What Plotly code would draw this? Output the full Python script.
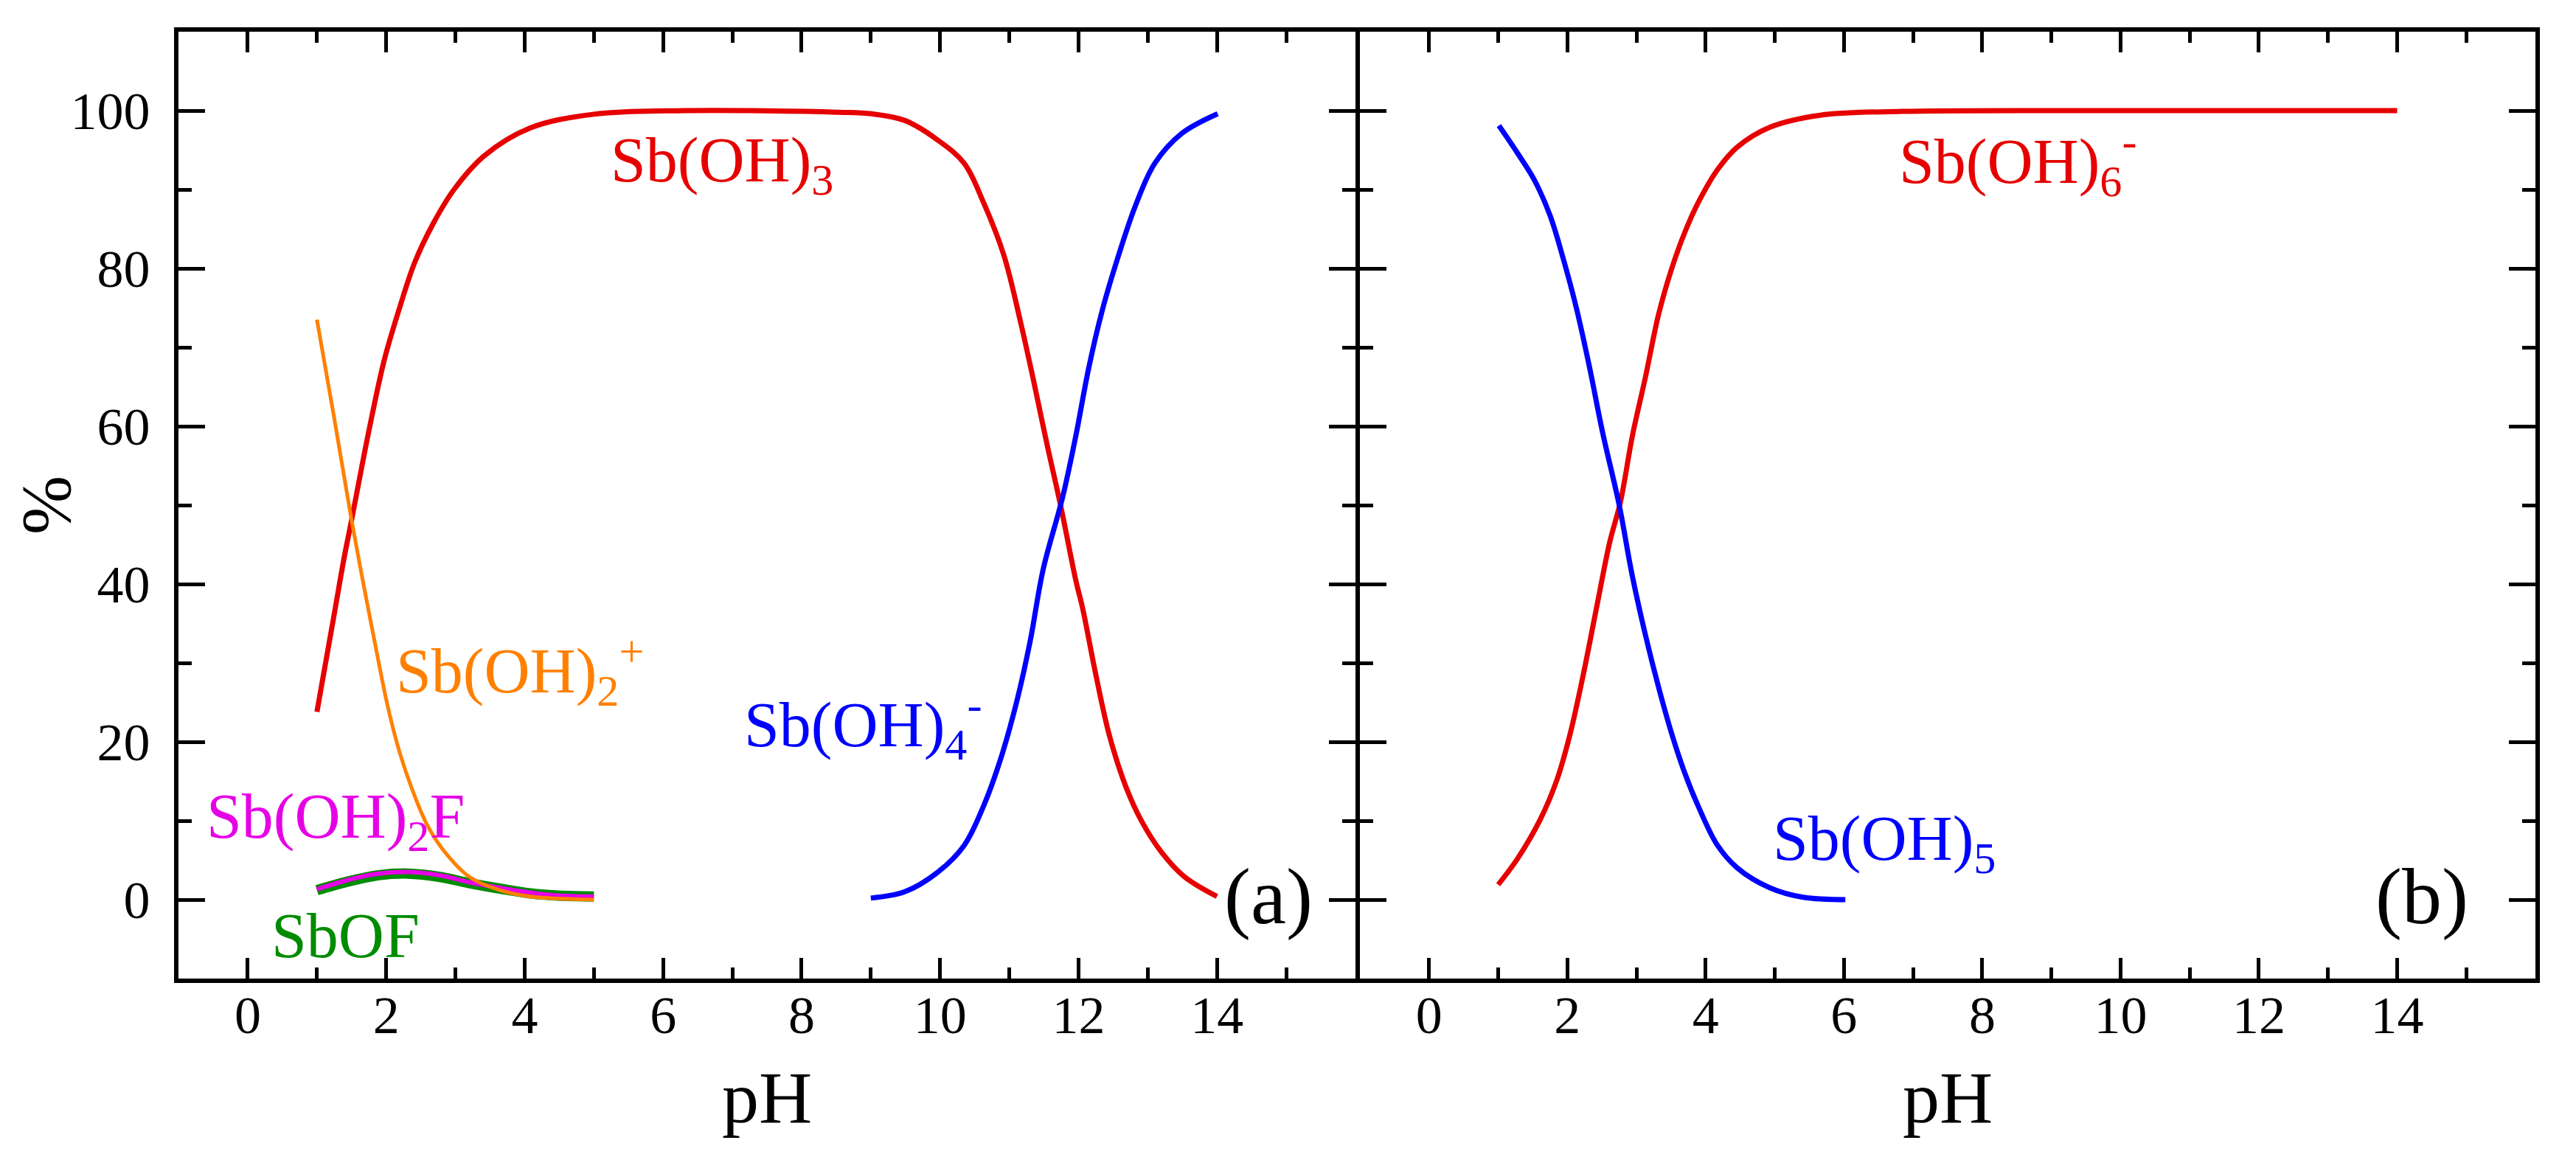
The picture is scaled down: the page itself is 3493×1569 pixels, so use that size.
import plotly.graph_objects as go
from plotly.subplots import make_subplots

# ---- panel (a): Sb(III) species ----
PH_SBOH3 = [1.0, 1.25, 1.39, 1.5, 1.75, 1.97, 2.19, 2.41, 2.68, 2.98, 3.42, 4.08, 4.96, 6.3,
            8.54, 9.01, 9.49, 9.97, 10.35, 10.63, 10.92, 11.16, 11.35, 11.54, 11.74, 11.96,
            12.06, 12.25, 12.44, 12.68, 12.92, 13.2, 13.53, 14.0]
SBOH3 = [23.8, 36.2, 43.2, 48.1, 59.4, 68.3, 74.9, 80.7, 85.7, 90.0, 94.3, 97.8, 99.5, 100.0,
         99.8, 99.6, 98.75, 96.25, 93.3, 88.3, 81.7, 73.3, 65.8, 57.9, 50.0, 40.5,
         36.9, 28.5, 21.0, 14.4, 9.8, 6.0, 2.9, 0.4]

PH_SBOH4 = [9.0, 9.49, 9.97, 10.35, 10.63, 10.87, 11.11, 11.3, 11.49, 11.77, 11.96, 12.15,
            12.34, 12.58, 12.82, 13.1, 13.49, 14.01]
SBOH4 = [0.2, 1.0, 3.5, 6.9, 11.9, 17.7, 25.2, 32.7, 41.9, 51.0, 58.75, 67.5,
         74.6, 81.7, 87.9, 93.3, 97.1, 99.6]

PH_SBOH2 = [1.0, 1.25, 1.5, 1.67, 1.84, 2.02, 2.19, 2.37, 2.59, 2.85, 3.2, 3.64, 4.08, 5.0]
SBOH2 = [73.5, 61.0, 48.1, 40.1, 32.4, 24.6, 18.8, 14.1, 9.5, 6.0, 2.9, 1.2, 0.4, 0.0]

PH_SMALL = [1.0, 1.45, 1.89, 2.32, 2.76, 3.2, 3.64, 4.08, 4.52, 5.0]
SBOF = [1.2, 2.3, 3.1, 3.3, 2.9, 2.1, 1.4, 0.8, 0.5, 0.4]
SBOH2F = [1.3, 2.5, 3.3, 3.5, 3.1, 2.2, 1.5, 0.9, 0.5, 0.4]

# ---- panel (b): Sb(V) species ----
PH_SBOH6 = [1.0, 1.28, 1.61, 1.85, 2.04, 2.23, 2.42, 2.61, 2.77, 2.94, 3.13, 3.32, 3.51, 3.7,
            3.89, 4.17, 4.46, 4.93, 5.64, 6.83, 10.0, 14.0]
SBOH6 = [1.9, 5.2, 10.2, 15.2, 21.0, 28.5, 36.9, 45.2, 50.5, 58.75, 66.25, 74.2, 80.0, 84.6,
         88.3, 92.5, 95.4, 97.9, 99.4, 99.9, 100.0, 100.0]

PH_SBOH5 = [1.01, 1.28, 1.52, 1.75, 1.94, 2.13, 2.32, 2.51, 2.75, 2.94, 3.13, 3.32, 3.51, 3.7,
            3.89, 4.17, 4.46, 4.93, 5.41, 6.02]
SBOH5 = [98.1, 94.6, 91.25, 86.7, 81.25, 75.0, 67.5, 59.2, 50.0, 41.0, 33.5, 26.9, 21.0, 16.0,
         11.9, 6.9, 4.0, 1.5, 0.3, 0.0]

X_TICKS = [0, 2, 4, 6, 8, 10, 12, 14]
X_MINOR = [-1, 1, 3, 5, 7, 9, 11, 13, 15]
Y_TICKS = [0, 20, 40, 60, 80, 100]
Y_MINOR = [-10, 10, 30, 50, 70, 90, 110]

RED = "#e60000"
BLUE = "#0000ff"
ORANGE = "#ff8000"
MAGENTA = "#e600e6"
GREEN = "#008c00"
FONT = "Liberation Serif"
LW = 6  # frame line width


def curve(x, y, color, width):
    return go.Scatter(x=x, y=y, mode="lines", hoverinfo="skip",
                      line=dict(color=color, width=width, shape="spline", smoothing=1.0))


def main():
    fig = make_subplots(rows=1, cols=2, horizontal_spacing=0)

    # panel (a)
    fig.add_trace(curve(PH_SBOH3, SBOH3, RED, 7), row=1, col=1)
    fig.add_trace(curve(PH_SBOH4, SBOH4, BLUE, 7), row=1, col=1)
    fig.add_trace(curve(PH_SMALL, SBOF, GREEN, 14), row=1, col=1)
    fig.add_trace(curve(PH_SMALL, SBOH2F, MAGENTA, 6), row=1, col=1)
    fig.add_trace(curve(PH_SBOH2, SBOH2, ORANGE, 5), row=1, col=1)

    # panel (b)
    fig.add_trace(curve(PH_SBOH6, SBOH6, RED, 7), row=1, col=2)
    fig.add_trace(curve(PH_SBOH5, SBOH5, BLUE, 7), row=1, col=2)

    labels = [
        ("x", "y", 5.22, 93.2, "Sb(OH)<sub>3</sub>", RED),
        ("x", "y", 2.12, 29.0, "Sb(OH)<sub>2</sub><sup>+</sup>", ORANGE),
        ("x", "y", 7.15, 22.2, "Sb(OH)<sub>4</sub><sup>-</sup>", BLUE),
        ("x", "y", -0.62, 10.0, "Sb(OH)<sub>2</sub>F", MAGENTA),
        ("x", "y", 0.32, -4.6, "SbOF", GREEN),
        ("x2", "y2", 6.78, 93.6, "Sb(OH)<sub>6</sub><sup>-</sup>", RED),
        ("x2", "y2", 4.95, 7.2, "Sb(OH)<sub>5</sub>", BLUE),
    ]
    for xr, yr, x, y, text, color in labels:
        fig.add_annotation(xref=xr, yref=yr, x=x, y=y, text=text, showarrow=False,
                           xanchor="left", yanchor="middle",
                           font=dict(family=FONT, size=86, color=color))
    fig.add_annotation(xref="x", yref="y", x=14.74, y=0.4, text="(a)", showarrow=False,
                       xanchor="center", yanchor="middle", font=dict(family=FONT, size=108, color="black"))
    fig.add_annotation(xref="x2", yref="y2", x=14.36, y=0.4, text="(b)", showarrow=False,
                       xanchor="center", yanchor="middle", font=dict(family=FONT, size=108, color="black"))
    # y-axis title, placed by hand so it can sit closer to the page edge
    fig.add_annotation(xref="paper", yref="paper", x=0, y=0.5, xshift=-180, text="%",
                       textangle=-90, showarrow=False, xanchor="center", yanchor="middle",
                       font=dict(family=FONT, size=96, color="black"))

    axis_common = dict(showline=True, linewidth=LW, linecolor="black", mirror="ticks",
                       ticks="inside", tickcolor="black", tickwidth=5,
                       showgrid=False, zeroline=False, automargin=False)
    fig.update_xaxes(range=[-1, 16], tickvals=X_TICKS, ticklen=28,
                     minor=dict(tickvals=X_MINOR, ticks="inside", ticklen=15, tickwidth=5, tickcolor="black"),
                     tickfont=dict(family=FONT, size=72, color="black"), ticklabelstandoff=-18,
                     title=dict(text="pH", font=dict(family=FONT, size=100, color="black"), standoff=38),
                     **axis_common)
    fig.update_yaxes(range=[-10, 110], tickvals=Y_TICKS, ticklen=36,
                     minor=dict(tickvals=Y_MINOR, ticks="inside", ticklen=18, tickwidth=5, tickcolor="black"),
                     tickfont=dict(family=FONT, size=72, color="black"), ticklabelstandoff=18,
                     **axis_common)
    fig.update_yaxes(showticklabels=False, row=1, col=2)

    # the two panels share one border line: offset the second domain by one line width
    plot_w = 3493 - 234 - 63
    split = 1599 / plot_w
    fig.update_layout(xaxis=dict(domain=[0, split - LW / 2 / plot_w]),
                      xaxis2=dict(domain=[split + LW / 2 / plot_w, 1]))
    fig.update_layout(width=3493, height=1569, showlegend=False,
                      paper_bgcolor="white", plot_bgcolor="white",
                      margin=dict(l=234, r=63, t=35, b=250),
                      font=dict(family=FONT))
    fig.write_html("out.html")


if __name__ == "__main__":
    main()
